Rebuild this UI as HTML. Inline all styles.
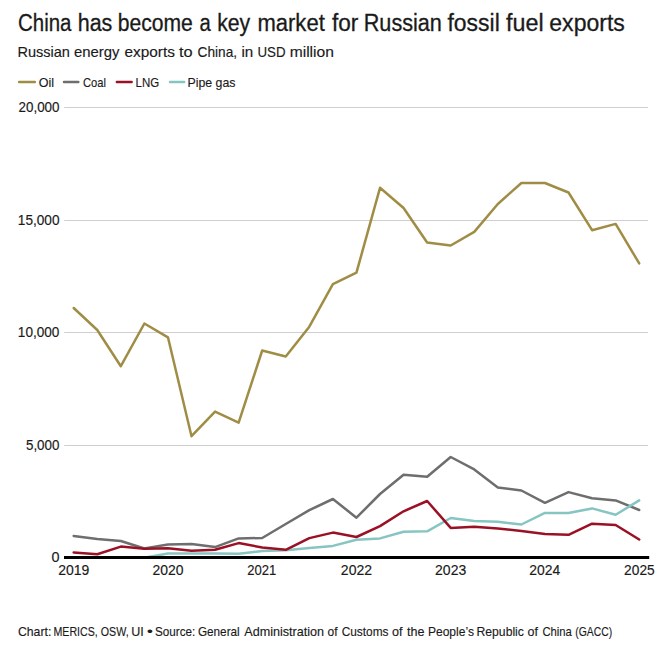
<!DOCTYPE html>
<html><head><meta charset="utf-8"><style>
html,body{margin:0;padding:0;background:#fff;}
svg{display:block;}
text{font-family:"Liberation Sans",sans-serif;fill:#1a1a1a;stroke:#1a1a1a;stroke-width:0.15px;}
.tb{stroke:#1a1a1a;stroke-width:0.3px;}
</style></head><body>
<svg width="672" height="649" viewBox="0 0 672 649">
<rect width="672" height="649" fill="#fff"/>
<text class="tb" x="18.06" y="30.5" font-size="23.5" textLength="53.44" lengthAdjust="spacingAndGlyphs">China</text>
<text class="tb" x="77.71" y="30.5" font-size="23.5" textLength="34.67" lengthAdjust="spacingAndGlyphs">has</text>
<text class="tb" x="117.74" y="30.5" font-size="23.5" textLength="75.10" lengthAdjust="spacingAndGlyphs">become</text>
<text class="tb" x="199.54" y="30.5" font-size="23.5" textLength="11.26" lengthAdjust="spacingAndGlyphs">a</text>
<text class="tb" x="217.17" y="30.5" font-size="23.5" textLength="33.07" lengthAdjust="spacingAndGlyphs">key</text>
<text class="tb" x="257.44" y="30.5" font-size="23.5" textLength="67.32" lengthAdjust="spacingAndGlyphs">market</text>
<text class="tb" x="331.98" y="30.5" font-size="23.5" textLength="26.40" lengthAdjust="spacingAndGlyphs">for</text>
<text class="tb" x="363.72" y="30.5" font-size="23.5" textLength="78.18" lengthAdjust="spacingAndGlyphs">Russian</text>
<text class="tb" x="447.48" y="30.5" font-size="23.5" textLength="52.26" lengthAdjust="spacingAndGlyphs">fossil</text>
<text class="tb" x="506.07" y="30.5" font-size="23.5" textLength="37.59" lengthAdjust="spacingAndGlyphs">fuel</text>
<text class="tb" x="549.32" y="30.5" font-size="23.5" textLength="75.51" lengthAdjust="spacingAndGlyphs">exports</text>
<text x="17.41" y="57.4" font-size="15" textLength="52.54" lengthAdjust="spacingAndGlyphs">Russian</text>
<text x="74.07" y="57.4" font-size="15" textLength="45.46" lengthAdjust="spacingAndGlyphs">energy</text>
<text x="124.45" y="57.4" font-size="15" textLength="50.41" lengthAdjust="spacingAndGlyphs">exports</text>
<text x="178.95" y="57.4" font-size="15" textLength="13.63" lengthAdjust="spacingAndGlyphs">to</text>
<text x="197.61" y="57.4" font-size="15" textLength="39.52" lengthAdjust="spacingAndGlyphs">China,</text>
<text x="241.49" y="57.4" font-size="15" textLength="11.80" lengthAdjust="spacingAndGlyphs">in</text>
<text x="257.47" y="57.4" font-size="15" textLength="28.06" lengthAdjust="spacingAndGlyphs">USD</text>
<text x="289.66" y="57.4" font-size="15" textLength="44.25" lengthAdjust="spacingAndGlyphs">million</text>

<g stroke-width="2.5" stroke-linecap="round">
<line x1="19.1" y1="81.9" x2="34.9" y2="81.9" stroke="#a08d45"/>
<line x1="64" y1="81.9" x2="78.3" y2="81.9" stroke="#6e6e6e"/>
<line x1="116.9" y1="81.9" x2="131.6" y2="81.9" stroke="#9a1024"/>
<line x1="170" y1="81.9" x2="184.2" y2="81.9" stroke="#86c5c2"/>
</g>
<text x="38.81" y="86.6" font-size="13.5" textLength="15.33" lengthAdjust="spacingAndGlyphs">Oil</text>
<text x="83.03" y="86.6" font-size="13.5" textLength="22.91" lengthAdjust="spacingAndGlyphs">Coal</text>
<text x="135.56" y="86.6" font-size="13.5" textLength="23.60" lengthAdjust="spacingAndGlyphs">LNG</text>
<text x="187.49" y="86.6" font-size="13.5" textLength="47.96" lengthAdjust="spacingAndGlyphs">Pipe gas</text>

<line x1="64.2" y1="107.5" x2="648" y2="107.5" stroke="#cfcfcf" stroke-width="1"/>
<line x1="64.2" y1="220.5" x2="648" y2="220.5" stroke="#cfcfcf" stroke-width="1"/>
<line x1="64.2" y1="332.5" x2="648" y2="332.5" stroke="#cfcfcf" stroke-width="1"/>
<line x1="64.2" y1="445.5" x2="648" y2="445.5" stroke="#cfcfcf" stroke-width="1"/>
<text x="18.53" y="112.1" font-size="14" textLength="41.00" lengthAdjust="spacingAndGlyphs">20,000</text>
<text x="17.86" y="225.1" font-size="14" textLength="41.67" lengthAdjust="spacingAndGlyphs">15,000</text>
<text x="17.86" y="337.1" font-size="14" textLength="41.57" lengthAdjust="spacingAndGlyphs">10,000</text>
<text x="25.96" y="450.1" font-size="14" textLength="33.46" lengthAdjust="spacingAndGlyphs">5,000</text>
<text x="51.44" y="562.1" font-size="14" textLength="8.03" lengthAdjust="spacingAndGlyphs">0</text>
<polyline points="73.70,308.00 97.26,330.00 120.83,366.20 144.39,323.50 167.95,337.30 191.51,436.20 215.07,411.60 238.64,422.70 262.20,350.50 285.76,356.50 309.32,326.70 332.89,284.20 356.45,272.70 380.01,187.80 403.57,208.00 427.14,242.50 450.70,245.50 474.26,231.90 497.82,204.00 521.39,183.00 544.95,183.00 568.51,192.50 592.08,230.20 615.64,223.90 639.20,263.40" fill="none" stroke="#a08d45" stroke-width="2.5" stroke-linejoin="round" stroke-linecap="round"/>
<polyline points="73.70,536.00 97.26,539.00 120.83,541.00 144.39,548.50 167.95,544.40 191.51,544.00 215.07,547.10 238.64,538.40 262.20,538.00 285.76,524.00 309.32,510.20 332.89,499.00 356.45,517.70 380.01,494.00 403.57,474.80 427.14,476.80 450.70,457.00 474.26,469.40 497.82,487.40 521.39,490.50 544.95,502.80 568.51,492.10 592.08,498.20 615.64,500.40 639.20,510.00" fill="none" stroke="#6e6e6e" stroke-width="2.5" stroke-linejoin="round" stroke-linecap="round"/>
<polyline points="73.70,557.50 97.26,557.50 120.83,557.50 144.39,557.80 167.95,553.50 191.51,553.50 215.07,553.50 238.64,553.80 262.20,551.00 285.76,550.20 309.32,548.00 332.89,545.90 356.45,539.70 380.01,538.40 403.57,531.70 427.14,531.30 450.70,518.00 474.26,520.90 497.82,521.70 521.39,524.50 544.95,512.90 568.51,512.90 592.08,508.40 615.64,514.80 639.20,500.40" fill="none" stroke="#86c5c2" stroke-width="2.5" stroke-linejoin="round" stroke-linecap="round"/>
<polyline points="73.70,552.40 97.26,554.30 120.83,546.60 144.39,548.80 167.95,548.20 191.51,550.70 215.07,549.70 238.64,543.10 262.20,547.50 285.76,549.80 309.32,538.10 332.89,532.60 356.45,537.00 380.01,526.10 403.57,511.30 427.14,501.00 450.70,527.90 474.26,526.80 497.82,528.60 521.39,530.90 544.95,534.00 568.51,534.80 592.08,523.70 615.64,525.00 639.20,539.50" fill="none" stroke="#9a1024" stroke-width="2.5" stroke-linejoin="round" stroke-linecap="round"/>
<line x1="64" y1="557.5" x2="649.2" y2="557.5" stroke="#000" stroke-width="3"/>
<text x="58.20" y="574.8" font-size="14" textLength="31.17" lengthAdjust="spacingAndGlyphs">2019</text>
<text x="152.40" y="574.8" font-size="14" textLength="31.05" lengthAdjust="spacingAndGlyphs">2020</text>
<text x="247.24" y="574.8" font-size="14" textLength="29.10" lengthAdjust="spacingAndGlyphs">2021</text>
<text x="340.84" y="574.8" font-size="14" textLength="31.21" lengthAdjust="spacingAndGlyphs">2022</text>
<text x="435.10" y="574.8" font-size="14" textLength="31.12" lengthAdjust="spacingAndGlyphs">2023</text>
<text x="529.35" y="574.8" font-size="14" textLength="30.91" lengthAdjust="spacingAndGlyphs">2024</text>
<text x="624.11" y="574.8" font-size="14" textLength="30.57" lengthAdjust="spacingAndGlyphs">2025</text>
<text x="17.98" y="635.7" font-size="13.5" textLength="33.34" lengthAdjust="spacingAndGlyphs">Chart:</text>
<text x="53.43" y="635.7" font-size="13.5" textLength="44.33" lengthAdjust="spacingAndGlyphs">MERICS,</text>
<text x="100.70" y="635.7" font-size="13.5" textLength="27.94" lengthAdjust="spacingAndGlyphs">OSW,</text>
<text x="131.33" y="635.7" font-size="13.5" textLength="12.52" lengthAdjust="spacingAndGlyphs">UI</text>
<text x="146.94" y="635.7" font-size="13.5" textLength="5.81" lengthAdjust="spacingAndGlyphs">•</text>
<text x="155.07" y="635.7" font-size="13.5" textLength="40.30" lengthAdjust="spacingAndGlyphs">Source:</text>
<text x="197.91" y="635.7" font-size="13.5" textLength="41.78" lengthAdjust="spacingAndGlyphs">General</text>
<text x="244.28" y="635.7" font-size="13.5" textLength="79.84" lengthAdjust="spacingAndGlyphs">Administration</text>
<text x="327.50" y="635.7" font-size="13.5" textLength="9.99" lengthAdjust="spacingAndGlyphs">of</text>
<text x="341.70" y="635.7" font-size="13.5" textLength="46.73" lengthAdjust="spacingAndGlyphs">Customs</text>
<text x="391.97" y="635.7" font-size="13.5" textLength="10.51" lengthAdjust="spacingAndGlyphs">of</text>
<text x="407.01" y="635.7" font-size="13.5" textLength="17.45" lengthAdjust="spacingAndGlyphs">the</text>
<text x="427.92" y="635.7" font-size="13.5" textLength="46.02" lengthAdjust="spacingAndGlyphs">People’s</text>
<text x="476.50" y="635.7" font-size="13.5" textLength="47.42" lengthAdjust="spacingAndGlyphs">Republic</text>
<text x="527.48" y="635.7" font-size="13.5" textLength="10.41" lengthAdjust="spacingAndGlyphs">of</text>
<text x="542.43" y="635.7" font-size="13.5" textLength="29.47" lengthAdjust="spacingAndGlyphs">China</text>
<text x="575.36" y="635.7" font-size="13.5" textLength="36.78" lengthAdjust="spacingAndGlyphs">(GACC)</text>
</svg>
</body></html>
